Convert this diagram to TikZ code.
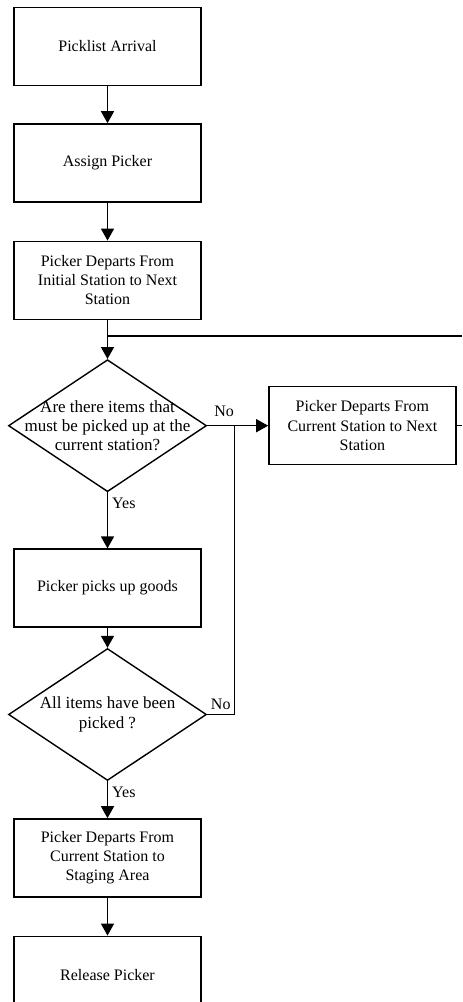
\documentclass[tikz,border=0pt]{standalone}
\usepackage{fontspec}
\setmainfont{Liberation Serif}
\usetikzlibrary{positioning,arrows.meta,shapes.geometric}

\begin{document}
\begin{tikzpicture}[
  >={Triangle[length=6pt,width=6.5pt]}, line width=0.7pt,
  font=\fontsize{8}{9.6}\selectfont,
  proc/.style={rectangle, draw, align=center, minimum width=93.5pt,
               minimum height=39pt, inner sep=2pt},
  decide/.style={diamond, draw, minimum width=99pt, minimum height=66pt,
                 inner sep=0pt},
  dtext/.style={align=center, inner sep=0pt, font=\fontsize{8.5}{9.6}\selectfont},
  lbl/.style={inner sep=2pt},
]
\path[use as bounding box] (-53.75pt,23.25pt) coordinate (tl)
  rectangle (177.25pt,-477.75pt) coordinate (br);

% ---------- main column ----------
\node[proc] (arrive) {Picklist Arrival};
\node[proc, below=18.5pt of arrive] (assign) {Assign Picker};
\node[proc, below=19pt of assign] (depart) {Picker Departs From\\ Initial Station to Next\\ Station};
\node[decide, below=19.5pt of depart] (q1) {};
\node[dtext] (q1txt) at (q1) {Are there items that\\ must be picked up at the\\ current station?};
\node[proc, below=28pt of q1] (pickup) {Picker picks up goods};
\node[decide, below=10pt of pickup] (q2) {};
\node[dtext] (q2txt) at (q2) {All items have been\\ picked ?};
\node[proc, below=18.5pt of q2] (staging) {Picker Departs From\\ Current Station to\\ Staging Area};
\node[proc, below=19pt of staging] (release) {Release Picker};

% ---------- side branch ----------
\node[proc, right=30.5pt of q1] (next) {Picker Departs From\\ Current Station to Next\\ Station};
\coordinate[above=11.5pt of q1.north] (join);
\coordinate[right=13.5pt of q1.east] (merge);

\draw[->] (arrive) -- (assign);
\draw[->] (assign) -- (depart);
\draw[->] (depart) -- (q1);
\draw[->] (q1) -- node[lbl, right, pos=0.2] {Yes} (pickup);
\draw[->] (pickup) -- (q2);
\draw[->] (q2) -- node[lbl, right, pos=0.3] {Yes} (staging);
\draw[->] (staging) -- (release);

\draw[->] (q1.east) -- (next.west) node[lbl, pos=0.04, above right, yshift=2pt] {No};
\draw (q2.east) -| (merge) node[lbl, pos=0.02, above right, xshift=-1pt] {No};
% loop back to the station check
\draw (next.east) -- (next.east -| br);
\draw (join -| br) -- (join);

\end{tikzpicture}
\end{document}
